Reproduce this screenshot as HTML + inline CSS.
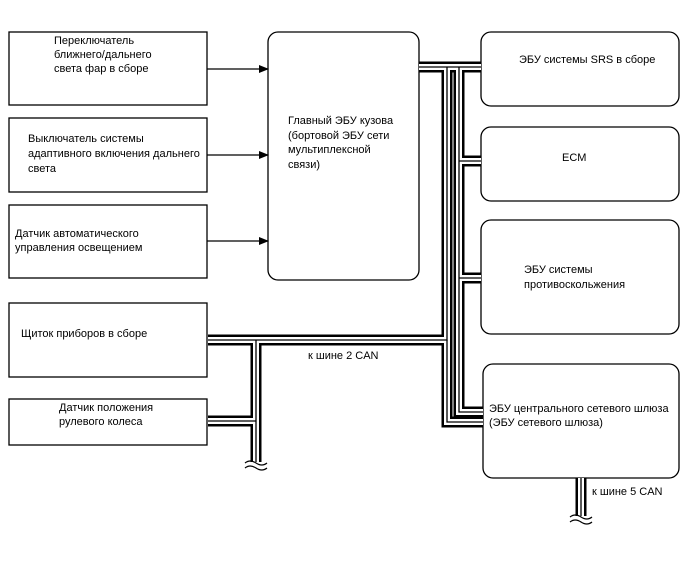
<!DOCTYPE html>
<html><head><meta charset="utf-8"><style>
body{margin:0;background:#fff}
svg text{font-family:"Liberation Sans",sans-serif;font-size:11px;fill:#000}
</style></head><body>
<svg width="688" height="560" viewBox="0 0 688 560" xmlns="http://www.w3.org/2000/svg">
<defs><marker id="a" markerWidth="10" markerHeight="8" refX="9" refY="4" orient="auto" markerUnits="userSpaceOnUse"><path d="M0,0 L10,4 L0,8 z" fill="#000"/></marker></defs>
<g fill="none" stroke="#000" stroke-width="1.3">
<rect x="9" y="32" width="198" height="73"/>
<rect x="9" y="118" width="198" height="74"/>
<rect x="9" y="205" width="198" height="73"/>
<rect x="9" y="303" width="198" height="74"/>
<rect x="9" y="399" width="198" height="46"/>
<rect x="268" y="32" width="151" height="248" rx="10"/>
<rect x="481" y="32" width="198" height="74" rx="10"/>
<rect x="481" y="127" width="198" height="74" rx="10"/>
<rect x="481" y="220" width="198" height="114" rx="10"/>
<rect x="483" y="364" width="196" height="114" rx="10"/>
<line x1="207" y1="69" x2="268" y2="69" marker-end="url(#a)"/>
<line x1="207" y1="155" x2="268" y2="155" marker-end="url(#a)"/>
<line x1="207" y1="241" x2="268" y2="241" marker-end="url(#a)"/>
</g>
<g fill="none" stroke-linejoin="miter" stroke-linecap="butt">
<g stroke="#000" stroke-width="11">
<path d="M208 340 H447 V67"/><path d="M419 67 H481"/>
<path d="M447 340 V422 H483"/>
<path d="M459 67 V412 H483"/><path d="M459 161 H481"/><path d="M459 278 H481"/>
<path d="M256 340 V462"/><path d="M208 421 H256"/>
<path d="M581 478 V516"/>
</g>
<g stroke="#fff" stroke-width="6">
<path d="M208 340 H447 V67"/><path d="M419 67 H481"/>
<path d="M447 340 V422 H483"/>
<path d="M459 67 V412 H483"/><path d="M459 161 H481"/><path d="M459 278 H481"/>
<path d="M256 340 V465"/><path d="M208 421 H256"/>
<path d="M581 478 V519"/>
</g>
<g stroke="#000" stroke-width="1.3">
<path d="M208 340 H447 V67"/><path d="M419 67 H481"/>
<path d="M447 340 V422 H483"/>
<path d="M459 67 V412 H483"/><path d="M459 161 H481"/><path d="M459 278 H481"/>
<path d="M256 340 V462"/><path d="M208 421 H256"/>
<path d="M581 478 V516"/>
</g>
<g stroke="#000" stroke-width="1.2">
<path d="M245 463 q5 -4 11 0 t11 0"/><path d="M245 468 q5 -4 11 0 t11 0"/>
<path d="M570 517 q5 -4 11 0 t11 0"/><path d="M570 522 q5 -4 11 0 t11 0"/>
</g>
</g>
<text x="54" y="44">Переключатель</text>
<text x="54" y="58">ближнего/дальнего</text>
<text x="54" y="72">света фар в сборе</text>
<text x="28" y="142">Выключатель системы</text>
<text x="28" y="157">адаптивного включения дальнего</text>
<text x="28" y="172">света</text>
<text x="15" y="237">Датчик автоматического</text>
<text x="15" y="251">управления освещением</text>
<text x="21" y="337">Щиток приборов в сборе</text>
<text x="59" y="411">Датчик положения</text>
<text x="59" y="425">рулевого колеса</text>
<text x="288" y="124">Главный ЭБУ кузова</text>
<text x="288" y="139">(бортовой ЭБУ сети</text>
<text x="288" y="153">мультиплексной</text>
<text x="288" y="168">связи)</text>
<text x="519" y="63">ЭБУ системы SRS в сборе</text>
<text x="562" y="161">ECM</text>
<text x="524" y="273">ЭБУ системы</text>
<text x="524" y="288">противоскольжения</text>
<text x="489" y="412">ЭБУ центрального сетевого шлюза</text>
<text x="489" y="426">(ЭБУ сетевого шлюза)</text>
<text x="308" y="359">к шине 2 CAN</text>
<text x="592" y="495">к шине 5 CAN</text>
</svg>
</body></html>
